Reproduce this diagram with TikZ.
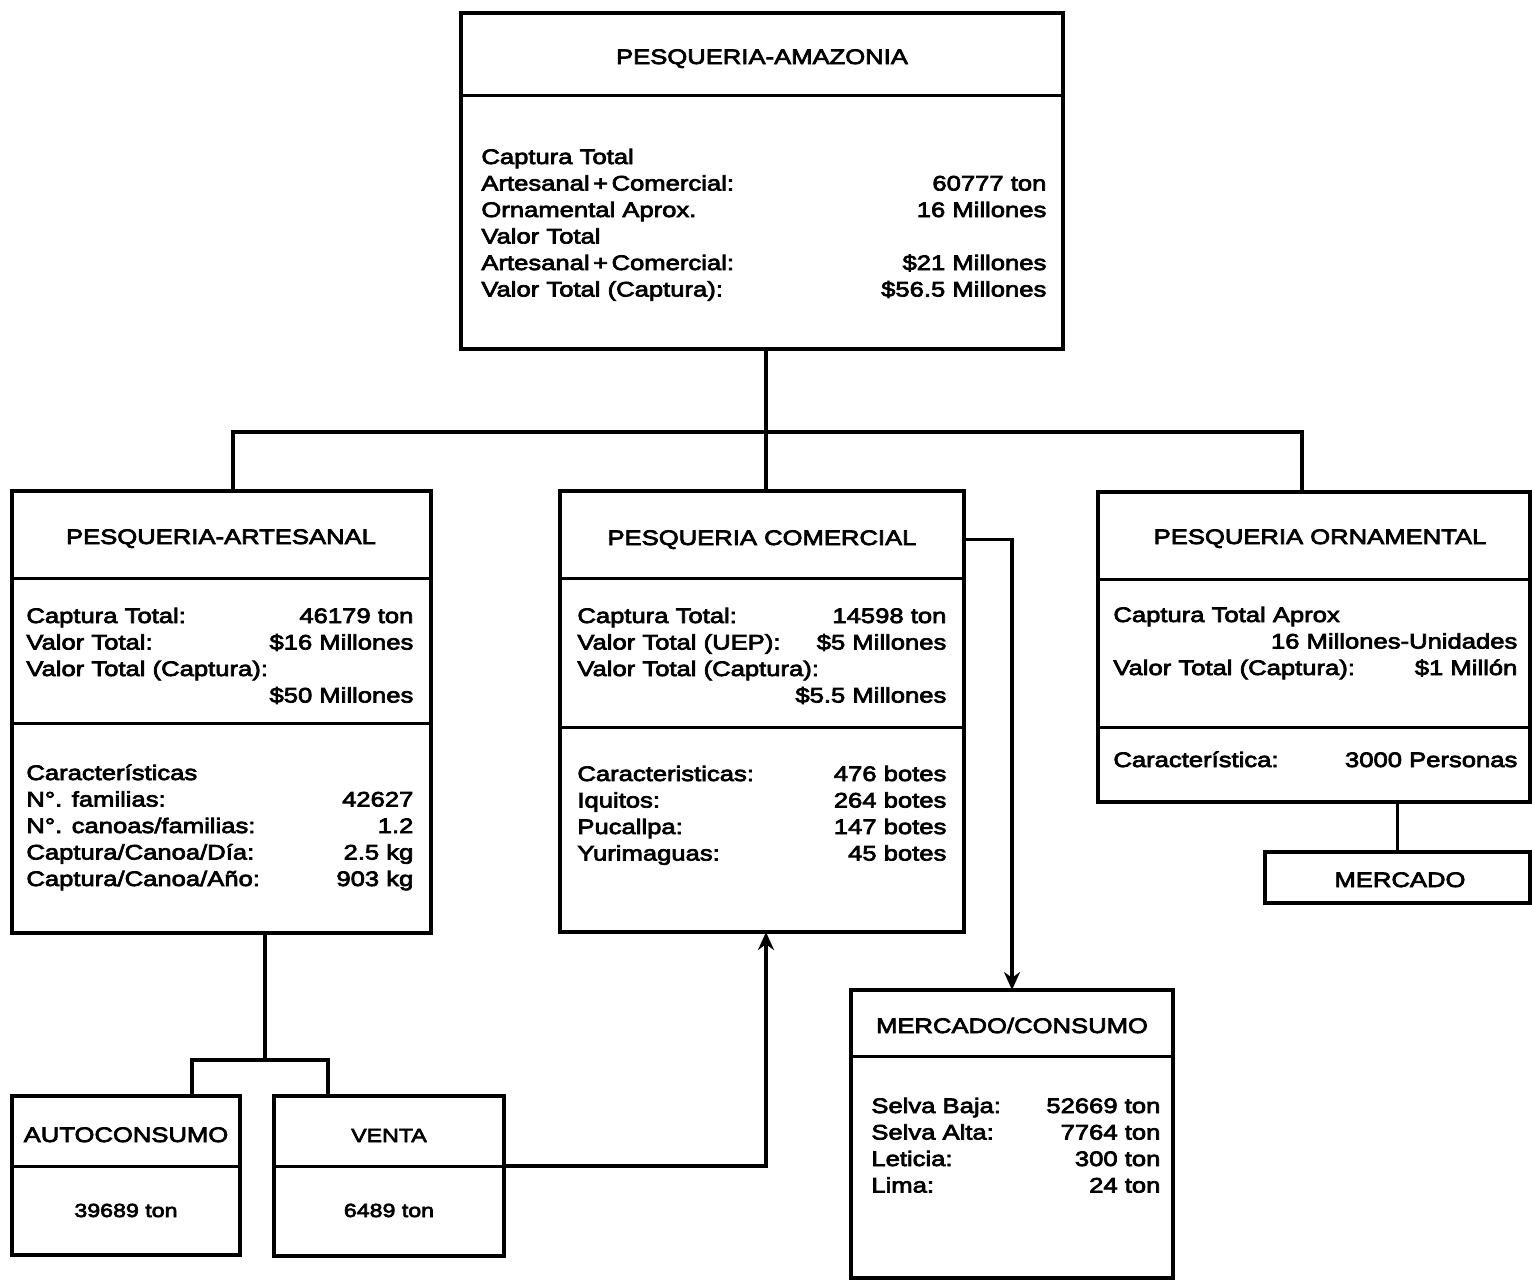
\documentclass[tikz,border=0pt]{standalone}
\usepackage{fontspec}
\setmainfont[FakeStretch=1.22,FakeBold=3.5]{Liberation Sans}
\usetikzlibrary{arrows.meta}

% two-column block: labels left, values flush right
\newcommand\twocol[2]{\begin{tabular*}{#1}[t]{@{}l@{\extracolsep{\fill}}r@{}}#2\end{tabular*}}
\newcommand\lonly[1]{\multicolumn{2}{@{}l@{}}{#1}}
\newcommand\ronly[1]{\multicolumn{2}{@{}r@{}}{#1}}

\tikzset{
  box/.style={draw, line width=1.9pt, anchor=north west, inner sep=0pt, outer sep=0pt},
  rule/.style={line width=1.5pt},
  link/.style={line width=1.8pt},
  arr/.style={link, -{Stealth[length=9pt,width=8pt]}},
  head/.style={anchor=base, inner sep=0pt, font=\fontsize{10.5}{13.25}\selectfont},
  small/.style={anchor=base, inner sep=0pt, font=\fontsize{9.5}{12}\selectfont},
  body/.style={anchor=base west, inner sep=0pt, font=\fontsize{10.5}{13.25}\selectfont},
}

\begin{document}
\begin{tikzpicture}[x=0.5pt, y=-0.5pt]
\useasboundingbox (0,0) rectangle (1532,1281);

% ---------- Pesqueria Amazonia ----------
\node[box, minimum width=301pt, minimum height=168pt] (amz) at (461,13) {};
\draw[rule] (amz.west |- 0,95) -- (amz.east |- 0,95);
\node[head] (amzT) at (762,64) {PESQUERIA-AMAZONIA};
\node[body] (amzB) at (481,164) {\twocol{282.5pt}{%
  \lonly{Captura Total}\\
  Artesanal\,+\,Comercial: & 60777 ton\\
  Ornamental Aprox. & 16 Millones\\
  \lonly{Valor Total}\\
  Artesanal\,+\,Comercial: & \$21 Millones\\
  Valor Total (Captura): & \$56.5 Millones}};

% ---------- Pesqueria artesanal ----------
\node[box, minimum width=209.5pt, minimum height=221pt] (art) at (12,491) {};
\draw[rule] (art.west |- 0,578) -- (art.east |- 0,578);
\draw[rule] (art.west |- 0,723) -- (art.east |- 0,723);
\node[head] (artT) at (221,544) {PESQUERIA-ARTESANAL};
\node[body] (artB) at (26,623) {\twocol{193.5pt}{%
  Captura Total: & 46179 ton\\
  Valor Total: & \$16 Millones\\
  \lonly{Valor Total (Captura):}\\
  \ronly{\$50 Millones}}};
\node[body] (artC) at (26,780) {\twocol{193.5pt}{%
  \lonly{Características}\\
  N°. familias: & 42627\\
  N°. canoas/familias: & 1.2\\
  Captura/Canoa/Día: & 2.5 kg\\
  Captura/Canoa/Año: & 903 kg}};

% ---------- Pesqueria comercial ----------
\node[box, minimum width=202pt, minimum height=220.5pt] (com) at (560,491) {};
\draw[rule] (com.west |- 0,578) -- (com.east |- 0,578);
\draw[rule] (com.west |- 0,727) -- (com.east |- 0,727);
\node[head] (comT) at (762,545) {PESQUERIA COMERCIAL};
\node[body] (comB) at (577,623) {\twocol{184.5pt}{%
  Captura Total: & 14598 ton\\
  Valor Total (UEP): & \$5 Millones\\
  \lonly{Valor Total (Captura):}\\
  \ronly{\$5.5 Millones}}};
\node[body] (comC) at (577,781) {\twocol{184.5pt}{%
  Caracteristicas: & 476 botes\\
  Iquitos: & 264 botes\\
  Pucallpa: & 147 botes\\
  Yurimaguas: & 45 botes}};

% ---------- Pesqueria ornamental ----------
\node[box, minimum width=216pt, minimum height=155pt] (orn) at (1098,492) {};
\draw[rule] (orn.west |- 0,579) -- (orn.east |- 0,579);
\draw[rule] (orn.west |- 0,727) -- (orn.east |- 0,727);
\node[head] (ornT) at (1320,544) {PESQUERIA ORNAMENTAL};
\node[body] (ornB) at (1113,622) {\twocol{202pt}{%
  \lonly{Captura Total Aprox}\\
  \ronly{16 Millones-Unidades}\\
  Valor Total (Captura): & \$1 Millón}};
\node[body] (ornC) at (1113,767) {\twocol{202pt}{%
  Característica: & 3000 Personas}};

\node[box, minimum width=132.5pt, minimum height=25.5pt] (mer) at (1265,852) {};
\node[head] (merT) at (1400,887) {MERCADO};

% ---------- Mercado / consumo ----------
\node[box, minimum width=161pt, minimum height=144pt] (mc) at (851,990) {};
\draw[rule] (mc.west |- 0,1056) -- (mc.east |- 0,1056);
\node[head] (mcT) at (1012,1033) {MERCADO/CONSUMO};
\node[body] (mcB) at (871,1113) {\twocol{144.5pt}{%
  Selva Baja: & 52669 ton\\
  Selva Alta: & 7764 ton\\
  Leticia: & 300 ton\\
  Lima: & 24 ton}};

% ---------- Autoconsumo and venta ----------
\node[box, minimum width=114pt, minimum height=79.5pt] (auto) at (12,1096) {};
\draw[rule] (auto.west |- 0,1166) -- (auto.east |- 0,1166);
\node[head] (autoT) at (126,1142) {AUTOCONSUMO};
\node[small] (autoV) at (126,1217) {39689 ton};

\node[box, minimum width=115pt, minimum height=80pt] (venta) at (274,1096) {};
\draw[rule] (venta.west |- 0,1166) -- (venta.east |- 0,1166);
\node[small] (ventaT) at (389,1142) {VENTA};
\node[small] (ventaV) at (389,1217) {6489 ton};

% ---------- Connectors ----------
\coordinate (hub)  at (766,432);
\coordinate (hubL) at (233,432);
\coordinate (hubR) at (1302,432);
\draw[link] (hub |- amz.south) -- (hub) -- (hub |- com.north);
\draw[link] (hubL |- art.north) -- (hubL) -- (hubR) -- (hubR |- orn.north);

\coordinate (split) at (265,1060);
\coordinate (splitL) at (192,1060);
\coordinate (splitR) at (328,1060);
\draw[link] (split |- art.south) -- (split);
\draw[link] (splitL |- auto.north) -- (splitL) -- (splitR) -- (splitR |- venta.north);

\draw[link] (orn.south -| mer.north) -- (mer.north);

\draw[arr] (com.east |- comT) -| (mc.north);
\draw[arr] (venta.east |- 0,1166) -| (hub |- com.south);
\end{tikzpicture}
\end{document}
